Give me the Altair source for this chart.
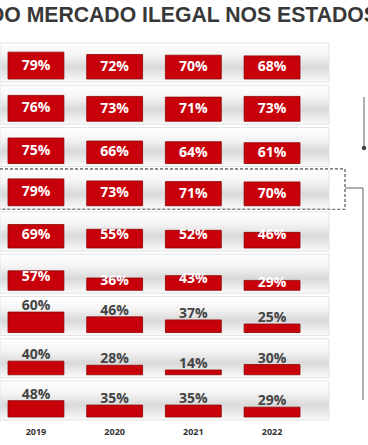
import altair as alt
import pandas as pd

# ---------------- data ----------------
years = ["2019", "2020", "2021", "2022"]
row1 = [79, 72, 70, 68]
row2 = [76, 73, 71, 73]
row3 = [75, 66, 64, 61]
row4 = [79, 73, 71, 70]
row5 = [69, 55, 52, 46]
row6 = [57, 36, 43, 29]
row7 = [60, 46, 37, 25]
row8 = [40, 28, 14, 30]
row9 = [48, 35, 35, 29]
row_values = [row1, row2, row3, row4, row5, row6, row7, row8, row9]
title_text = "DO MERCADO ILEGAL NOS ESTADOS"
highlight_row = 3

# ---------------- layout constants ----------------
W, H = 368, 445
K = 0.34                 # px per percentage point
PITCH = 42.25 / K        # row pitch in value units
LO = -(H - 417) / K
HI = LO + H / K
N = len(row_values)

records = []
for r, vals in enumerate(row_values):
    style = "inside" if r < 4 else ("top" if r < 6 else "above")
    for yr, v in zip(years, vals):
        records.append({"row": r, "year": yr, "value": v,
                        "label": f"{v}%", "style": style})
df = pd.DataFrame(records)
rows_df = pd.DataFrame({"row": list(range(N))})

base_expr = f"({N - 1} - datum.row) * {PITCH}"
yscale = alt.Scale(domain=[LO, HI], nice=False, zero=False)
xscale = alt.Scale(domain=years, range=[-3.4, 311.4],
                   paddingInner=0.29, paddingOuter=0.145)

band_grad = alt.LinearGradient(
    gradient="linear", x1=0, x2=0, y1=0, y2=1,
    stops=[alt.GradientStop(offset=0, color="#ffffff"),
           alt.GradientStop(offset=0.3, color="#f5f5f5"),
           alt.GradientStop(offset=0.62, color="#d9d9d9"),
           alt.GradientStop(offset=0.85, color="#ededed"),
           alt.GradientStop(offset=1, color="#fbfbfb")])

bands = alt.Chart(rows_df).transform_calculate(
    base=base_expr
).transform_calculate(
    b0=f"datum.base - {3 / K}", b1=f"datum.base + {36 / K}"
).mark_rect(fill=band_grad, stroke="#e3e3e3", strokeWidth=1).encode(
    x=alt.value(0), x2=alt.value(329),
    y=alt.Y("b0:Q", scale=yscale, axis=None), y2="b1:Q")

base = alt.Chart(df).transform_calculate(
    base=base_expr
).transform_calculate(
    top="datum.base + datum.value"
)

bars = base.mark_bar(color="#c8000a", stroke="#8e0000", strokeWidth=0.8).encode(
    x=alt.X("year:O", scale=xscale, axis=None),
    y=alt.Y("base:Q", scale=yscale, axis=None),
    y2="top:Q")

font = "Open Sans"
txt_inside = base.transform_filter("datum.style == 'inside'").transform_calculate(
    ly="datum.base + datum.value / 2"
).mark_text(font=font, fontSize=14, fontWeight="bold", color="white",
            baseline="middle", align="center").encode(
    x=alt.X("year:O", scale=xscale, axis=None),
    y=alt.Y("ly:Q", scale=yscale, axis=None),
    text="label:N")

txt_top = base.transform_filter("datum.style == 'top'").transform_calculate(
    ly=f"min(datum.top - {3 / K}, datum.base + {13 / K})"
).mark_text(font=font, fontSize=14, fontWeight="bold", color="white",
            baseline="middle", align="center").encode(
    x=alt.X("year:O", scale=xscale, axis=None),
    y=alt.Y("ly:Q", scale=yscale, axis=None),
    text="label:N")

txt_above = base.transform_filter("datum.style == 'above'").mark_text(
    font=font, fontSize=14, fontWeight="bold", color="#444444",
    baseline="middle", align="center", dy=-6).encode(
    x=alt.X("year:O", scale=xscale, axis=None),
    y=alt.Y("top:Q", scale=yscale, axis=None),
    text="label:N")

year_labels = alt.Chart(pd.DataFrame({"year": years})).mark_text(
    font=font, fontSize=9, fontWeight="bold", color="#333333",
    baseline="middle", align="center").encode(
    x=alt.X("year:O", scale=xscale, axis=None),
    y=alt.value(432),
    text="year:N")

highlight = alt.Chart(pd.DataFrame({"row": [highlight_row]})).transform_calculate(
    base=base_expr
).transform_calculate(
    h0=f"datum.base - {3.5 / K}", h1=f"datum.base + {36.8 / K}"
).mark_rect(filled=False, stroke="#555555", strokeDash=[3, 2], strokeWidth=1.2).encode(
    x=alt.value(-5), x2=alt.value(345),
    y=alt.Y("h0:Q", scale=yscale, axis=None), y2="h1:Q")

one = pd.DataFrame({"k": [0]})
conn1 = alt.Chart(one).mark_rule(color="#7a7a7a", strokeWidth=1.2).encode(
    x=alt.value(364), y=alt.value(97), y2=alt.value(148))
dot = alt.Chart(one).mark_circle(size=20, color="#444444", opacity=1).encode(
    x=alt.value(364), y=alt.value(148))
conn2 = alt.Chart(one).mark_rule(color="#7a7a7a", strokeWidth=1.2).encode(
    x=alt.value(345), x2=alt.value(363), y=alt.value(188))
conn3 = alt.Chart(one).mark_rule(color="#7a7a7a", strokeWidth=1.2).encode(
    x=alt.value(363), y=alt.value(188), y2=alt.value(400))

title = alt.Chart(pd.DataFrame({"t": [title_text]})).mark_text(
    align="left", baseline="alphabetic", font="Liberation Sans",
    fontSize=21.2, fontWeight="bold", color="#383838").encode(
    x=alt.value(-11), y=alt.value(21.5), text="t:N")

chart = alt.layer(
    bands, bars, txt_inside, txt_top, txt_above, year_labels,
    highlight, conn1, dot, conn2, conn3, title
).properties(
    width=W, height=H, padding=0,
    autosize=alt.AutoSizeParams(type="none"),
    background="white"
).configure_view(strokeWidth=0)

chart.save("out.html", embed_options={"renderer": "svg", "actions": False})
